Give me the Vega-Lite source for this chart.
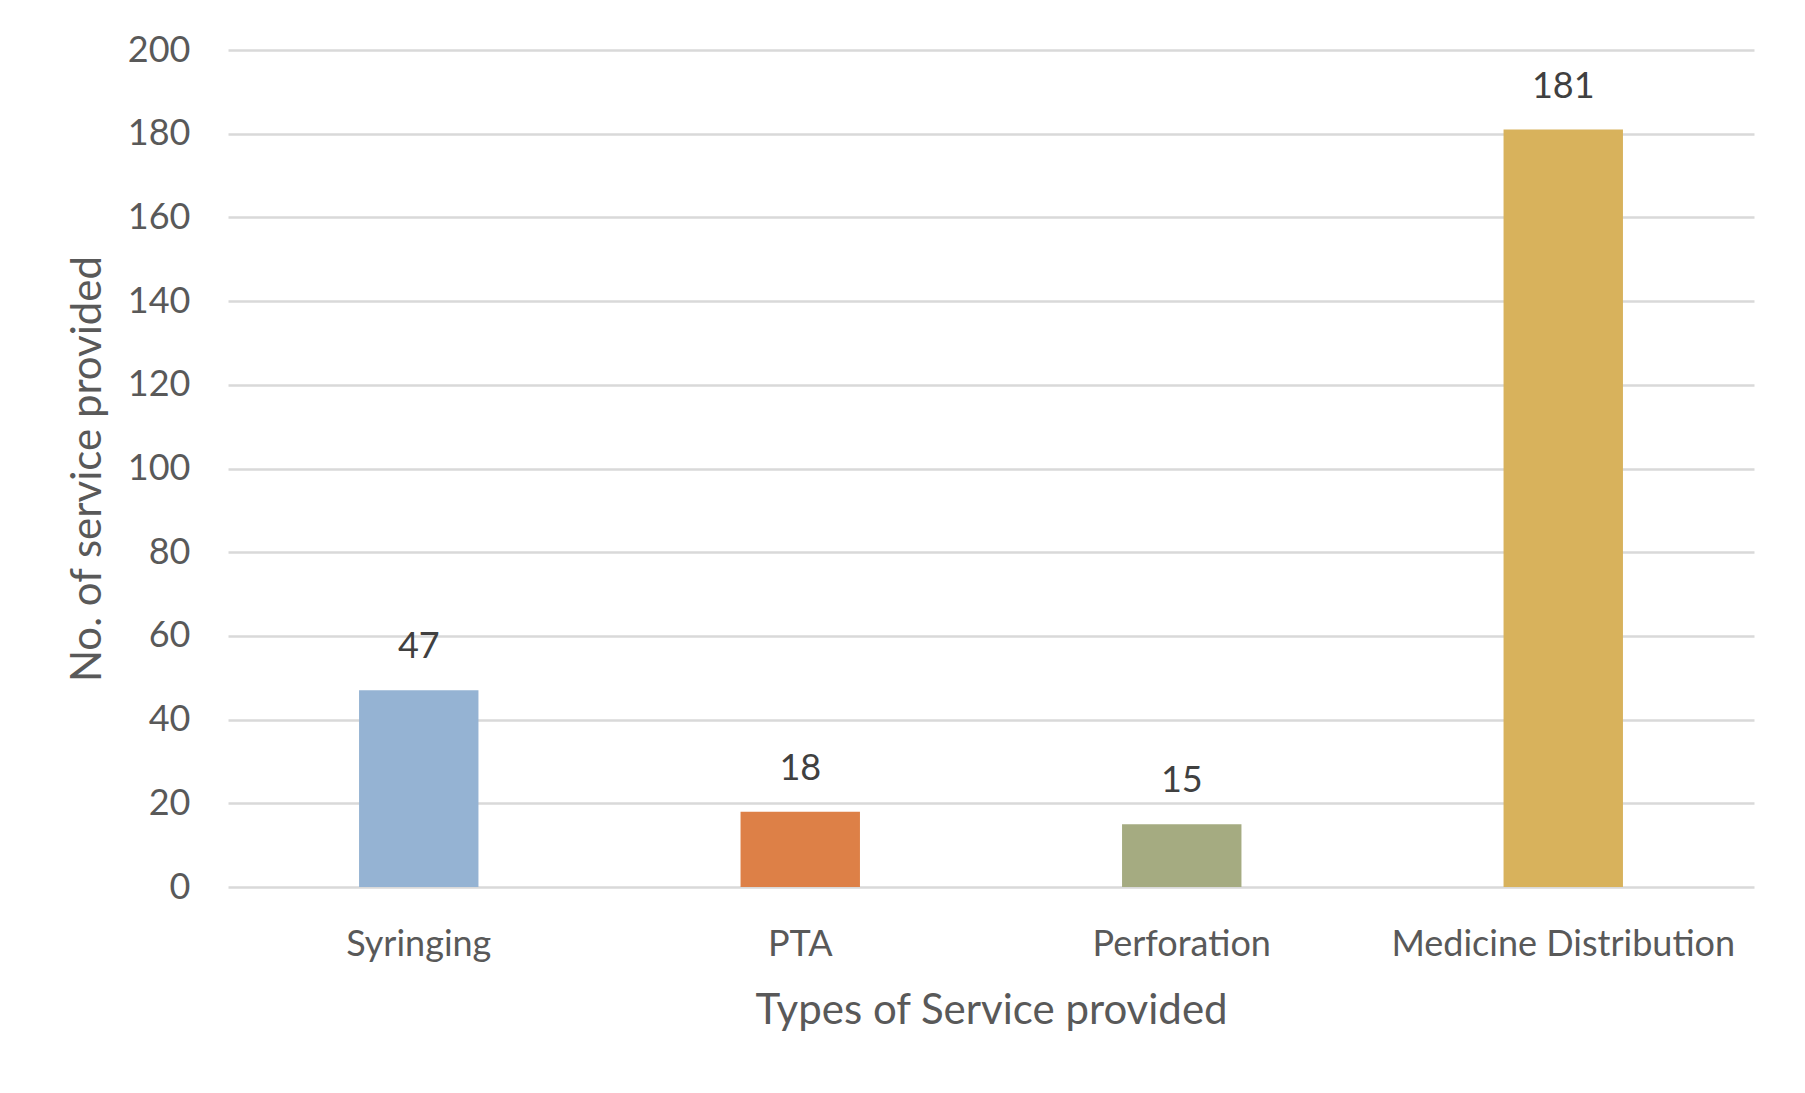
{
  "$schema": "https://vega.github.io/schema/vega-lite/v6.json",
  "width": 1526,
  "height": 837,
  "autosize": {"type": "none"},
  "padding": {"left": 228, "top": 50, "right": 51, "bottom": 206},
  "background": "white",
  "config": {
    "view": {"stroke": null},
    "font": "Lato"
  },
  "data": {
    "values": [
      {"service": "Syringing", "count": 47},
      {"service": "PTA", "count": 18},
      {"service": "Perforation", "count": 15},
      {"service": "Medicine Distribution", "count": 181}
    ]
  },
  "encoding": {
    "x": {
      "field": "service",
      "type": "nominal",
      "sort": null,
      "scale": {"paddingInner": 0.687, "paddingOuter": 0.3435},
      "axis": {
        "title": "Types of Service provided",
        "labelAngle": 0,
        "labelFont": "Lato",
        "labelFontSize": 36,
        "labelLimit": 0,
        "labelColor": "#595959",
        "labelPadding": 40,
        "titleFont": "Lato",
        "titleFontSize": 42,
        "titleFontWeight": "normal",
        "titleColor": "#595959",
        "titlePadding": 28,
        "domain": false,
        "ticks": false,
        "grid": false
      }
    },
    "y": {
      "field": "count",
      "type": "quantitative",
      "scale": {"domain": [0, 200], "nice": false},
      "axis": {
        "title": "No. of service provided",
        "values": [0, 20, 40, 60, 80, 100, 120, 140, 160, 180, 200],
        "labelFont": "Lato",
        "labelFontSize": 36,
        "labelColor": "#595959",
        "labelPadding": 38,
        "titleFont": "Lato",
        "titleFontSize": 42,
        "titleFontWeight": "normal",
        "titleColor": "#595959",
        "titlePadding": 18,
        "domain": false,
        "ticks": false,
        "grid": true,
        "gridColor": "#D9D9D9",
        "gridWidth": 2.5
      }
    }
  },
  "layer": [
    {
      "mark": {"type": "bar"},
      "encoding": {
        "color": {
          "field": "service",
          "type": "nominal",
          "sort": null,
          "scale": {
            "domain": ["Syringing", "PTA", "Perforation", "Medicine Distribution"],
            "range": ["#95B3D3", "#DD8047", "#A5AB81", "#D8B25C"]
          },
          "legend": null
        }
      }
    },
    {
      "mark": {"type": "text", "baseline": "bottom", "dy": -24, "fontSize": 36, "font": "Lato", "color": "#404040"},
      "encoding": {
        "text": {"field": "count", "type": "quantitative"}
      }
    }
  ]
}
